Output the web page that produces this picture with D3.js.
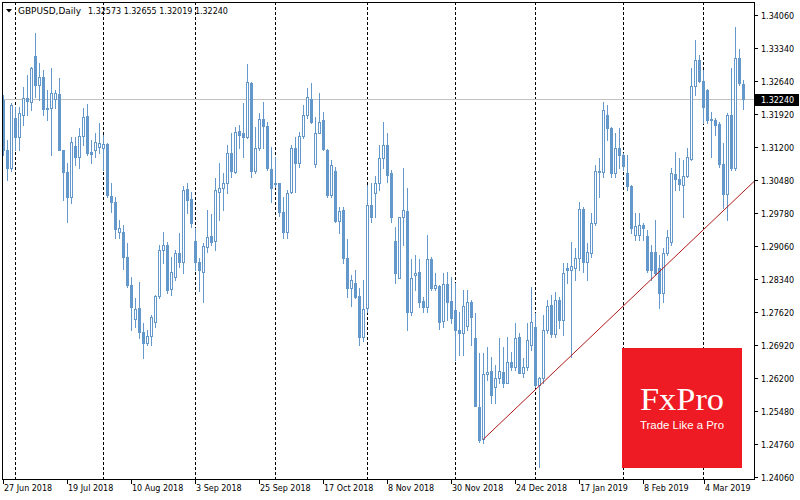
<!DOCTYPE html>
<html><head><meta charset="utf-8">
<script src="https://cdn.jsdelivr.net/npm/d3@7"></script>
<style>
body{margin:0;background:#fff}
svg{display:block}
text{font-family:"DejaVu Sans",sans-serif}
</style>
</head><body>
<svg id="chart" width="800" height="500"></svg>
<script>
// ---- DATA (GBPUSD daily, bar index 0 = 27 Jun 2018) ----
const openP = [1.3222,1.3113,1.3074,1.3183,1.3142,1.3189,1.3226,1.3217,1.3317,1.3254,
1.3272,1.3204,1.3204,1.3224,1.3235,1.3113,1.3066,1.3012,1.3122,1.3098,
1.3144,1.3187,1.3109,1.3113,1.3120,1.3118,1.3126,1.3014,1.3001,1.2936,
1.2936,1.2882,1.2821,1.2747,1.2771,1.2719,1.2695,1.2711,1.2741,1.2797,
1.2897,1.2908,1.2812,1.2838,1.2890,1.2871,1.3029,1.3007,1.2916,1.2871,
1.2849,1.2903,1.2927,1.2916,1.3022,1.3031,1.3042,1.3107,1.3066,1.3155,
1.3150,1.3142,1.3259,1.3068,1.3118,1.3181,1.3165,1.3072,1.3040,1.3042,
1.2979,1.2936,1.3022,1.3118,1.3085,1.3144,1.3189,1.3224,1.3083,1.3150,
1.3178,1.3113,1.3016,1.3068,1.2960,1.2983,1.2880,1.2814,1.2825,1.2797,
1.2708,1.2771,1.2994,1.3020,1.3042,1.3096,1.3124,1.3064,1.2916,1.2836,
1.2968,1.2981,1.2762,1.2843,1.2849,1.2786,1.2773,1.2877,1.2814,1.2819,
1.2743,1.2823,1.2786,1.2767,1.2724,1.2717,1.2732,1.2784,1.2706,1.2557,
1.2487,1.2628,1.2635,1.2600,1.2620,1.2632,1.2609,1.2654,1.2643,1.2708,
1.2630,1.2643,1.2691,1.2730,1.2604,1.2620,1.2724,1.2778,1.2715,1.2788,
1.2745,1.2858,1.2854,1.2858,1.2880,1.2986,1.2871,1.2890,1.2955,1.3068,
1.3066,1.3189,1.3161,1.3064,1.3118,1.3103,1.3064,1.3035,1.2929,1.2929,
1.2951,1.2927,1.2893,1.2893,1.2858,1.2804,1.2890,1.2914,1.3061,1.3051,
1.3037,1.3057,1.3094,1.3252,1.3308,1.3263,1.3243,1.3178,1.3178,1.3170,
1.3083,1.3018,1.3189,1.3074,1.3313,1.32573];
const highP = [1.3233,1.3135,1.3215,1.3207,1.3207,1.3250,1.3276,1.3293,1.3367,1.3302,
1.3287,1.3243,1.3291,1.3243,1.3270,1.3113,1.3085,1.3142,1.3142,1.3161,
1.3204,1.3213,1.3135,1.3150,1.3172,1.3146,1.3129,1.3042,1.3012,1.2962,
1.2951,1.2912,1.2838,1.2793,1.2827,1.2739,1.2724,1.2756,1.2799,1.2908,
1.2936,1.2914,1.2882,1.2897,1.2934,1.3035,1.3042,1.3022,1.2945,1.2880,
1.2912,1.2983,1.2975,1.3053,1.3085,1.3064,1.3124,1.3150,1.3163,1.3167,
1.3215,1.3300,1.3261,1.3163,1.3194,1.3217,1.3174,1.3120,1.3098,1.3042,
1.3012,1.3027,1.3124,1.3142,1.3152,1.3211,1.3248,1.3259,1.3185,1.3237,
1.3196,1.3116,1.3092,1.3077,1.2990,1.2990,1.2921,1.2843,1.2854,1.2814,
1.2832,1.3037,1.3042,1.3057,1.3124,1.3174,1.3150,1.3070,1.2947,1.2968,
1.3074,1.3031,1.2877,1.2886,1.2877,1.2795,1.2929,1.2882,1.2847,1.2821,
1.2847,1.2849,1.2838,1.2825,1.2762,1.2810,1.2810,1.2788,1.2760,1.2674,
1.2674,1.2687,1.2665,1.2648,1.2706,1.2687,1.2708,1.2676,1.2739,1.2717,
1.2663,1.2739,1.2817,1.2760,1.2622,1.2756,1.2788,1.2799,1.2806,1.2795,
1.2869,1.2869,1.2914,1.2901,1.3001,1.2990,1.2912,1.2977,1.3081,1.3096,
1.3217,1.3211,1.3163,1.3150,1.3161,1.3107,1.3103,1.3037,1.2977,1.2977,
1.2955,1.2940,1.2908,1.2962,1.2886,1.2901,1.2940,1.3074,1.3109,1.3096,
1.3092,1.3118,1.3291,1.3352,1.3319,1.3287,1.3246,1.3196,1.3183,1.3174,
1.3129,1.3194,1.3291,1.3380,1.3332,1.32655];
const lowP = [1.3103,1.3048,1.3068,1.3113,1.3113,1.3167,1.3189,1.3200,1.3228,1.3222,
1.3189,1.3178,1.3103,1.3204,1.3113,1.3005,1.2958,1.2999,1.3081,1.3074,
1.3124,1.3103,1.3085,1.3098,1.3107,1.3070,1.3012,1.2979,1.2923,1.2923,
1.2856,1.2817,1.2724,1.2730,1.2706,1.2663,1.2691,1.2691,1.2730,1.2793,
1.2869,1.2804,1.2799,1.2832,1.2860,1.2847,1.2977,1.2947,1.2854,1.2808,
1.2784,1.2893,1.2908,1.2897,1.2962,1.2983,1.3020,1.3055,1.3064,1.3118,
1.3098,1.3139,1.3055,1.3064,1.3113,1.3118,1.3070,1.3001,1.3033,1.2971,
1.2923,1.2923,1.3020,1.3022,1.3077,1.3139,1.3183,1.3172,1.3077,1.3150,
1.3113,1.3012,1.3012,1.2958,1.2934,1.2869,1.2795,1.2775,1.2793,1.2691,
1.2700,1.2762,1.2958,1.2968,1.3027,1.3074,1.3044,1.2958,1.2825,1.2836,
1.2908,1.2724,1.2756,1.2810,1.2773,1.2762,1.2762,1.2810,1.2810,1.2726,
1.2730,1.2745,1.2739,1.2659,1.2669,1.2669,1.2724,1.2691,1.2559,1.2481,
1.2479,1.2615,1.2565,1.2565,1.2609,1.2600,1.2609,1.2637,1.2637,1.2630,
1.2622,1.2637,1.2680,1.2600,1.2427,1.2609,1.2717,1.2708,1.2708,1.2728,
1.2713,1.2825,1.2665,1.2832,1.2854,1.2849,1.2832,1.2882,1.2951,1.3012,
1.3055,1.3135,1.3055,1.3055,1.3074,1.3070,1.3027,1.2934,1.2918,1.2918,
1.2918,1.2849,1.2832,1.2843,1.2771,1.2784,1.2886,1.2908,1.3027,1.3027,
1.2968,1.3055,1.3092,1.3233,1.3261,1.3172,1.3172,1.3098,1.3146,1.3077,
1.2988,1.2962,1.3070,1.3070,1.3254,1.32019];
const closeP = [1.3113,1.3074,1.3211,1.3142,1.3194,1.3226,1.3220,1.3291,1.3254,1.3272,
1.3202,1.3202,1.3237,1.3237,1.3113,1.3066,1.3012,1.3131,1.3098,1.3144,
1.3185,1.3107,1.3105,1.3131,1.3129,1.3126,1.3016,1.3001,1.2942,1.2945,
1.2882,1.2821,1.2773,1.2769,1.2719,1.2695,1.2711,1.2752,1.2797,1.2897,
1.2908,1.2810,1.2849,1.2890,1.2871,1.3027,1.3005,1.2955,1.2871,1.2854,
1.2906,1.2925,1.2914,1.3027,1.3031,1.3042,1.3107,1.3068,1.3152,1.3146,
1.3142,1.3261,1.3068,1.3118,1.3181,1.3165,1.3074,1.3031,1.3042,1.2979,
1.2936,1.3020,1.3118,1.3085,1.3144,1.3189,1.3228,1.3174,1.3150,1.3174,
1.3116,1.3016,1.3081,1.2960,1.2981,1.2880,1.2814,1.2832,1.2795,1.2708,
1.2769,1.2994,1.2968,1.3042,1.3096,1.3124,1.3059,1.2968,1.2847,1.2968,
1.2983,1.2762,1.2836,1.2847,1.2784,1.2773,1.2877,1.2814,1.2821,1.2741,
1.2823,1.2784,1.2750,1.2724,1.2717,1.2775,1.2784,1.2752,1.2559,1.2485,
1.2628,1.2632,1.2583,1.2620,1.2635,1.2609,1.2654,1.2643,1.2706,1.2630,
1.2643,1.2702,1.2741,1.2604,1.2620,1.2724,1.2775,1.2715,1.2788,1.2745,
1.2847,1.2854,1.2862,1.2880,1.2986,1.2871,1.2893,1.2955,1.3068,1.3066,
1.3200,1.3161,1.3064,1.3118,1.3103,1.3079,1.3035,1.2945,1.2949,1.2951,
1.2945,1.2854,1.2854,1.2847,1.2804,1.2890,1.2925,1.3064,1.3051,1.3040,
1.3057,1.3098,1.3252,1.3308,1.3263,1.3206,1.3178,1.3181,1.3167,1.3083,
1.3018,1.3189,1.3074,1.3313,1.3259,1.32240];

const monthStartBars = [3,25,48,68,91,113,133,155,175];
const xTickBars = [0,16,32,48,64,80,96,112,128,144,160,175.25];
const xTickLabels = ["27 Jun 2018","19 Jul 2018","10 Aug 2018","3 Sep 2018","25 Sep 2018",
  "17 Oct 2018","8 Nov 2018","30 Nov 2018","24 Dec 2018","17 Jan 2019","8 Feb 2019","4 Mar 2019"];
const yTicks = [1.34060,1.33340,1.32640,1.31920,1.31200,1.30480,1.29780,1.29060,
  1.28340,1.27620,1.26920,1.26200,1.25480,1.24760,1.24060];
const lastPrice = 1.32240;
const trendBars = [120, 175];
const trendPrices = [1.2486, 1.2940];
const headerText = "GBPUSD,Daily";
const headerValues = ["1.32573","1.32655","1.32019","1.32240"];

// ---- LAYOUT ----
const plotL = 2, plotT = 2, plotR = 754, plotB = 479;
const blue = "#6497ca";
const svg = d3.select("#chart");
const x = d3.scaleLinear().domain([0, 185]).range([3, 743]);
const y = d3.scaleLinear().domain([1.2406, 1.3406]).range([476.5, 15]);

svg.append("rect").attr("width",800).attr("height",500).attr("fill","#fff");
svg.append("defs").append("clipPath").attr("id","plotClip")
  .append("rect").attr("x",plotL+1).attr("y",plotT+1)
  .attr("width",plotR-plotL-1).attr("height",plotB-plotT-1);

const g = svg.append("g").attr("clip-path","url(#plotClip)");

// period separators
g.selectAll("line.sep").data(monthStartBars).join("line")
  .attr("x1", d => Math.round(x(d)) + 0.5).attr("x2", d => Math.round(x(d)) + 0.5)
  .attr("y1", plotT).attr("y2", plotB)
  .attr("stroke", "#000").attr("stroke-width", 1).attr("stroke-dasharray", "3,2");

// last price line
g.append("line")
  .attr("x1", plotL).attr("x2", plotR)
  .attr("y1", Math.round(y(lastPrice)) + 0.5).attr("y2", Math.round(y(lastPrice)) + 0.5)
  .attr("stroke", "#c0c0c0").attr("stroke-width", 1);

// candles
const bars = d3.range(openP.length).map(i => ({
  i, o: openP[i], h: highP[i], l: lowP[i], c: closeP[i]
}));
const cg = g.append("g");
bars.forEach(b => {
  const cx = Math.round(x(b.i));
  const yh = Math.round(y(b.h)), yl = Math.round(y(b.l));
  const top = Math.round(y(Math.max(b.o, b.c))), bot = Math.round(y(Math.min(b.o, b.c)));
  cg.append("line").attr("x1", cx + 0.5).attr("x2", cx + 0.5)
    .attr("y1", yh).attr("y2", yl + 1).attr("stroke", blue).attr("stroke-width", 1);
  if (b.c < b.o) {
    cg.append("rect").attr("x", cx - 1).attr("y", top).attr("width", 3)
      .attr("height", Math.max(1, bot - top + 1)).attr("fill", blue);
  } else {
    if (bot - top < 1) {
      cg.append("rect").attr("x", cx - 1).attr("y", top).attr("width", 3)
        .attr("height", 1).attr("fill", blue);
    } else {
      cg.append("rect").attr("x", cx - 0.5).attr("y", top + 0.5).attr("width", 2)
        .attr("height", bot - top).attr("fill", "#fff").attr("stroke", blue).attr("stroke-width", 1);
    }
  }
});

// trend line (ray to the right)
const tSlope = (trendPrices[1] - trendPrices[0]) / (trendBars[1] - trendBars[0]);
const endBar = x.invert(plotR);
g.append("line")
  .attr("x1", x(trendBars[0])).attr("y1", y(trendPrices[0]))
  .attr("x2", x(endBar)).attr("y2", y(trendPrices[0] + tSlope * (endBar - trendBars[0])))
  .attr("stroke", "#b01818").attr("stroke-width", 1);

// frame
svg.append("rect").attr("x", plotL + 0.5).attr("y", plotT + 0.5)
  .attr("width", plotR - plotL).attr("height", plotB - plotT)
  .attr("fill", "none").attr("stroke", "#000").attr("stroke-width", 1);

// y axis
const yAx = svg.append("g");
yTicks.forEach(v => {
  const yy = Math.round(y(v));
  yAx.append("line").attr("x1", plotR).attr("x2", plotR + 4)
    .attr("y1", yy + 0.5).attr("y2", yy + 0.5).attr("stroke", "#000");
  yAx.append("text").attr("x", 761).attr("y", yy + 3.5)
    .attr("font-size", 8).attr("fill", "#000").text(v.toFixed(5));
});
// last price label
const ly = Math.round(y(lastPrice));
svg.append("rect").attr("x", 755).attr("y", ly - 5).attr("width", 44).attr("height", 12).attr("fill", "#000");
svg.append("text").attr("x", 761).attr("y", ly + 4).attr("font-size", 8)
  .attr("fill", "#fff").text(lastPrice.toFixed(5));

// x axis
const xAx = svg.append("g");
xTickBars.forEach((bIdx, k) => {
  const xx = Math.round(x(bIdx));
  xAx.append("line").attr("x1", xx + 0.5).attr("x2", xx + 0.5)
    .attr("y1", plotB).attr("y2", plotB + 5).attr("stroke", "#000");
  xAx.append("text").attr("x", xx + 1).attr("y", 491)
    .attr("font-size", 8).attr("fill", "#000").text(xTickLabels[k]);
});

// header
svg.append("path").attr("d", "M6,9 L12,9 L9,12.5 Z").attr("fill", "#000");
svg.append("text").attr("x", 18).attr("y", 14).attr("font-size", 8)
  .attr("textLength", 63).attr("lengthAdjust", "spacingAndGlyphs").text(headerText);
svg.append("text").attr("x", 88).attr("y", 14).attr("font-size", 8)
  .text(headerValues.join(" "));

// logo
svg.append("rect").attr("x", 622).attr("y", 348).attr("width", 120).attr("height", 120).attr("fill", "#ee1b24");
svg.append("text").attr("x", 682).attr("y", 410).attr("text-anchor", "middle")
  .style("font-family", "'Liberation Serif','DejaVu Serif',serif").attr("font-size", 32)
  .attr("textLength", 84).attr("lengthAdjust", "spacingAndGlyphs")
  .attr("fill", "#fff").text("FxPro");
svg.append("text").attr("x", 682).attr("y", 429).attr("text-anchor", "middle")
  .style("font-family", "'Liberation Sans',Arial,sans-serif").attr("font-size", 11)
  .attr("textLength", 84).attr("lengthAdjust", "spacingAndGlyphs")
  .attr("fill", "#fff").text("Trade Like a Pro");
</script>
</body></html>
